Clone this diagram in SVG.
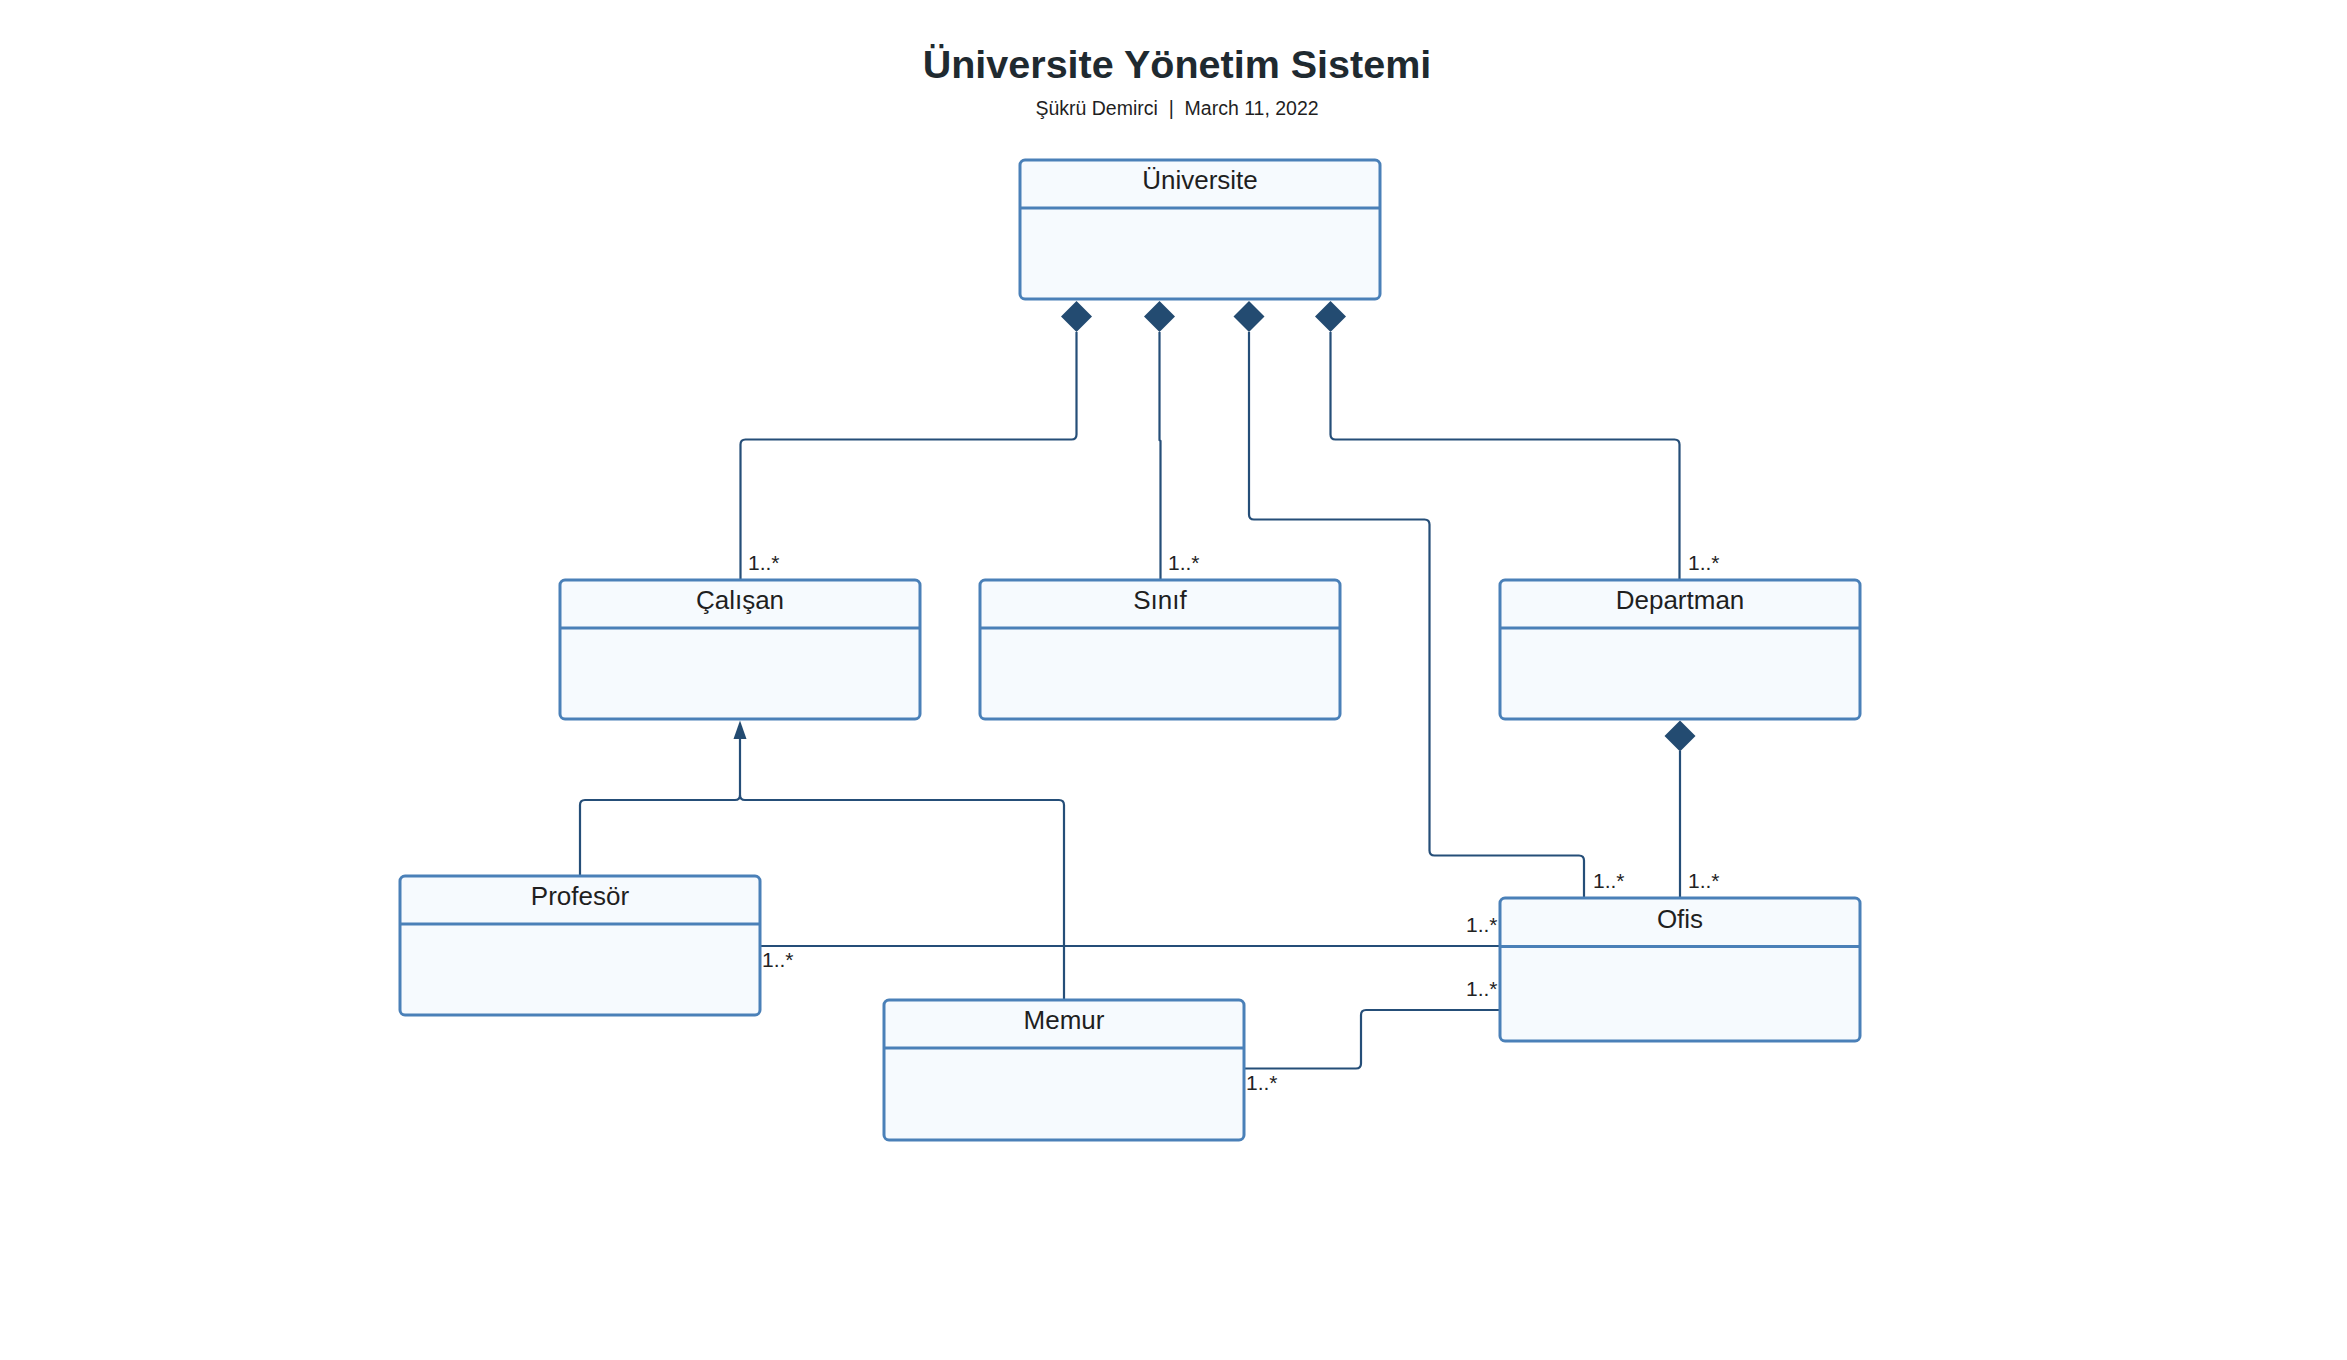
<svg xmlns="http://www.w3.org/2000/svg" width="2347" height="1360" viewBox="0 0 2347 1360">
<style>
.box{fill:#f6fafe;stroke:#4a80b8;stroke-width:3}
.hdr{stroke:#4a80b8;stroke-width:3}
.name{font-family:"Liberation Sans",Arial,sans-serif;font-size:26px;fill:#1f1f1f;text-anchor:middle}
.conn{fill:none;stroke:#254e78;stroke-width:2.2}
.dia{fill:#234b71}
.lbl{font-family:"Liberation Sans",Arial,sans-serif;font-size:21px;fill:#222222}
.title{font-family:"Liberation Sans",Arial,sans-serif;font-size:39.5px;font-weight:bold;fill:#1f2a30;text-anchor:middle}
.sub{font-family:"Liberation Sans",Arial,sans-serif;font-size:19.5px;fill:#1f1f1f;text-anchor:middle;white-space:pre}
</style>
<rect width="2347" height="1360" fill="#ffffff"/>
<text class="title" x="1177" y="78">Üniversite Yönetim Sistemi</text>
<text class="sub" x="1177" y="115" xml:space="preserve">Şükrü Demirci  |  March 11, 2022</text>

<g id="connectors">
<path class="conn" d="M1076.5 332 L1076.5 434.5 Q1076.5 439.5 1071.5 439.5 L745.5 439.5 Q740.5 439.5 740.5 444.5 L740.5 580"/>
<path class="conn" d="M1159.5 332 L1159.5 440 L1160.5 441 L1160.5 580"/>
<path class="conn" d="M1249 332 L1249 514.5 Q1249 519.5 1254 519.5 L1424.5 519.5 Q1429.5 519.5 1429.5 524.5 L1429.5 850.5 Q1429.5 855.5 1434.5 855.5 L1579 855.5 Q1584 855.5 1584 860.5 L1584 898"/>
<path class="conn" d="M1330.5 332 L1330.5 434.5 Q1330.5 439.5 1335.5 439.5 L1674.5 439.5 Q1679.5 439.5 1679.5 444.5 L1679.5 580"/>
<path class="conn" d="M1680 751 L1680 898"/>
<path class="conn" d="M580 876 L580 805 Q580 800 585 800 L735 800 Q740 800 740 795 L740 736"/>
<path class="conn" d="M1064 1000 L1064 805 Q1064 800 1059 800 L745 800 Q740 800 740 795"/>
<path class="conn" d="M760 946 L1500 946"/>
<path class="conn" d="M1244 1068.5 L1356 1068.5 Q1361 1068.5 1361 1063.5 L1361 1015 Q1361 1010 1366 1010 L1500 1010"/>
<polygon class="dia" points="1076.5,301 1092,316.5 1076.5,332 1061,316.5"/>
<polygon class="dia" points="1159.5,301 1175,316.5 1159.5,332 1144,316.5"/>
<polygon class="dia" points="1249,301 1264.5,316.5 1249,332 1233.5,316.5"/>
<polygon class="dia" points="1330.5,301 1346,316.5 1330.5,332 1315,316.5"/>
<polygon class="dia" points="1680,720.5 1695.5,736 1680,751.5 1664.5,736"/>
<polygon class="dia" points="740,720.5 746.5,739 733.5,739"/>
<text class="lbl" x="748" y="570">1..*</text>
<text class="lbl" x="1168" y="570">1..*</text>
<text class="lbl" x="1688" y="570">1..*</text>
<text class="lbl" x="1593" y="888">1..*</text>
<text class="lbl" x="1688" y="888">1..*</text>
<text class="lbl" x="1466" y="932">1..*</text>
<text class="lbl" x="762" y="967">1..*</text>
<text class="lbl" x="1466" y="996">1..*</text>
<text class="lbl" x="1246" y="1090">1..*</text>
</g>

<g id="universite">
<rect class="box" x="1020" y="160" width="360" height="139" rx="5"/>
<line class="hdr" x1="1020" y1="208" x2="1380" y2="208"/>
<text class="name" x="1200" y="189">Üniversite</text>
</g>
<g id="calisan">
<rect class="box" x="560" y="580" width="360" height="139" rx="5"/>
<line class="hdr" x1="560" y1="628" x2="920" y2="628"/>
<text class="name" x="740" y="609">Çalışan</text>
</g>
<g id="sinif">
<rect class="box" x="980" y="580" width="360" height="139" rx="5"/>
<line class="hdr" x1="980" y1="628" x2="1340" y2="628"/>
<text class="name" x="1160" y="609">Sınıf</text>
</g>
<g id="departman">
<rect class="box" x="1500" y="580" width="360" height="139" rx="5"/>
<line class="hdr" x1="1500" y1="628" x2="1860" y2="628"/>
<text class="name" x="1680" y="609">Departman</text>
</g>
<g id="profesor">
<rect class="box" x="400" y="876" width="360" height="139" rx="5"/>
<line class="hdr" x1="400" y1="924" x2="760" y2="924"/>
<text class="name" x="580" y="905">Profesör</text>
</g>
<g id="memur">
<rect class="box" x="884" y="1000" width="360" height="140" rx="5"/>
<line class="hdr" x1="884" y1="1048" x2="1244" y2="1048"/>
<text class="name" x="1064" y="1029">Memur</text>
</g>
<g id="ofis">
<rect class="box" x="1500" y="898" width="360" height="143" rx="5"/>
<line class="hdr" x1="1500" y1="946.5" x2="1860" y2="946.5"/>
<text class="name" x="1680" y="927.5">Ofis</text>
</g>
</svg>
